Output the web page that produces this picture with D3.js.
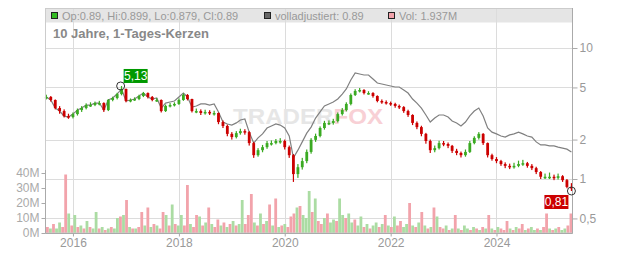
<!DOCTYPE html>
<html><head><meta charset="utf-8">
<script src="https://cdn.jsdelivr.net/npm/d3@7"></script>
<style>body{margin:0;background:#fff}svg{display:block;font-family:"Liberation Sans",Arial,sans-serif}</style>
</head><body><svg id="c" width="632" height="253"></svg>
<script>
// ---- DATA ----
const firstMonth = [2015, 6]; // July 2015, one candle per month
const closes = [
4.23,4.01,3.48,3.30,3.02,2.97,3.13,3.36,3.48,3.67,
3.67,3.80,3.80,3.36,4.01,4.15,4.45,4.87,3.94,4.01,
4.08,4.30,4.53,4.23,4.01,4.01,3.30,3.61,3.67,3.74,
4.01,4.38,4.08,3.30,3.30,3.19,3.25,3.19,3.19,2.72,
2.54,2.21,2.09,2.24,2.32,2.28,1.88,1.52,1.66,1.75,
1.88,1.88,1.95,1.95,1.75,1.52,1.09,1.23,1.37,1.61,
1.99,2.13,2.45,2.68,2.68,2.77,3.13,3.36,3.74,4.38,
4.70,4.78,4.53,4.53,4.30,3.94,3.87,3.80,3.74,3.61,
3.54,3.30,3.08,2.68,2.49,2.21,1.95,1.66,1.72,1.88,
1.85,1.79,1.64,1.58,1.52,1.61,1.88,2.06,2.21,1.88,
1.52,1.42,1.37,1.30,1.26,1.23,1.26,1.30,1.32,1.26,
1.21,1.13,1.04,1.04,1.04,1.02,1.05,0.98,0.87,0.85];
const highs = [
4.40,4.30,4.05,3.60,3.40,3.15,3.22,3.45,3.60,3.78,
3.85,3.90,3.95,3.85,4.08,4.25,4.55,5.13,4.90,4.12,
4.20,4.40,4.62,4.58,4.30,4.15,4.05,3.70,3.80,3.85,
4.12,4.50,4.45,4.10,3.45,3.40,3.38,3.35,3.32,3.22,
2.80,2.60,2.28,2.32,2.42,2.40,2.32,1.92,1.72,1.82,
1.95,1.97,2.02,2.05,2.00,1.80,1.55,1.30,1.45,1.68,
2.05,2.22,2.52,2.78,2.80,2.88,3.22,3.48,3.85,4.50,
4.85,4.95,4.85,4.68,4.60,4.35,4.05,3.98,3.90,3.82,
3.70,3.60,3.38,3.12,2.75,2.55,2.25,2.00,1.80,1.96,
1.95,1.90,1.82,1.70,1.62,1.68,1.95,2.12,2.28,2.24,
1.90,1.56,1.47,1.40,1.34,1.31,1.33,1.38,1.40,1.35,
1.30,1.24,1.15,1.10,1.12,1.08,1.10,1.07,1.00,0.93];
const lows = [
4.05,3.90,3.40,3.15,2.95,2.88,2.90,3.05,3.25,3.40,
3.55,3.60,3.65,3.25,3.30,3.92,4.05,4.35,3.85,3.85,
3.95,4.00,4.22,4.12,3.92,3.88,3.22,3.25,3.52,3.58,
3.68,3.95,3.98,3.22,3.18,3.08,3.10,3.08,3.05,2.62,
2.45,2.12,2.00,2.04,2.18,2.18,1.80,1.45,1.48,1.60,
1.70,1.80,1.84,1.86,1.68,1.45,0.95,1.02,1.18,1.32,
1.56,1.92,2.08,2.38,2.58,2.60,2.70,3.05,3.28,3.65,
4.30,4.58,4.42,4.40,4.18,3.85,3.75,3.70,3.62,3.50,
3.42,3.20,2.98,2.58,2.40,2.12,1.86,1.58,1.60,1.68,
1.78,1.72,1.58,1.52,1.46,1.48,1.58,1.84,2.00,1.82,
1.46,1.38,1.32,1.26,1.21,1.19,1.20,1.23,1.26,1.22,
1.17,1.09,1.00,1.00,1.00,0.98,0.99,0.95,0.85,0.81];
const adjusted = [
4.23,4.01,3.48,3.30,3.02,2.97,3.13,3.36,3.48,3.67,
3.67,3.80,3.80,3.36,4.01,4.15,4.45,4.87,3.94,4.01,
4.08,4.30,4.53,4.23,4.08,4.15,3.48,3.80,3.87,3.94,
4.23,4.53,4.23,3.54,3.61,3.74,3.74,3.67,3.74,3.25,
2.72,2.63,2.58,2.68,2.82,2.87,2.28,1.88,2.06,2.21,
2.45,2.54,2.63,2.58,2.45,2.13,1.45,1.66,1.92,2.24,
2.49,2.92,3.25,3.61,3.74,3.87,4.08,4.45,4.87,5.70,
6.44,6.33,6.22,6.22,5.80,5.40,5.31,5.22,5.13,5.04,
5.04,4.78,4.53,4.08,3.80,3.48,3.08,2.72,2.92,3.08,
3.08,2.97,2.77,2.68,2.54,2.72,3.03,3.30,3.48,3.03,
2.45,2.28,2.21,2.13,2.09,2.17,2.21,2.28,2.21,2.13,
2.09,1.92,1.82,1.82,1.79,1.79,1.75,1.72,1.69,1.61];
const volStart = [2015, 5, 29]; // volume sampled every 21 days (millions)
const volStepDays = 21;
const volumes = [
4,3,6,3,7,4,39,13,5,12, 4,5,3,8,4,3,14,3,4,2,
3,4,3,10,11,12,22,4,3,3, 4,14,5,17,4,6,5,3,14,12,
5,19,6,5,12,5,32,6,4,12, 11,5,7,17,6,4,9,5,7,4,
6,8,5,6,22,6,12,26,7,5, 13,6,8,19,5,23,4,5,6,4,
11,13,17,18,12,10,28,14,23,8, 6,10,13,7,9,8,23,12,10,13,
7,9,5,11,4,6,3,5,7,4, 6,12,5,4,11,5,8,4,6,20,
5,4,7,14,5,3,4,17,11,4, 3,5,2,3,12,3,2,5,3,2,
4,3,2,4,3,12,3,2,4,3, 2,8,3,2,4,3,6,2,3,4,
2,3,2,4,13,3,2,3,4,2, 3,5,13];
const volDirs = "duduuddudu"+"dududuudud"+"uduudududu"+"ddudududdu"+"duduuddudd"+
  "udududdudu"+"duduudddud"+"ududududud"+"dduduuudud"+"duduuduudu"+
  "uduududuud"+"udududduud"+"ududududud"+"dudududuud"+"ududududud"+
  "ddududdudu"+"ududdududu"+"udd";
const priceTicks = [0.5, 1, 2, 5, 10];
const volTicks = [0, 10, 20, 30, 40];
const yearTicks = [2016, 2018, 2020, 2022, 2024];
const title = "10 Jahre, 1-Tages-Kerzen";
const legendItems = [
  {text:"Op:0.89, Hi:0.899, Lo:0.879, Cl:0.89", color:"#33bb22"},
  {text:"volladjustiert: 0.89", color:"#666666"},
  {text:"Vol: 1.937M", color:"#f2a3ab"}];
const extremes = [
  {date:[2016,10,25], value:5.13, label:"5,13", kind:"high"},
  {date:[2025,5,1], value:0.81, label:"0,81", kind:"low"}];

// ---- LAYOUT ----
const L=46, R=572, T=8, B=233;
const svg = d3.select("#c");
const x = d3.scaleTime().domain([new Date(2015,5,29), new Date(2025,5,5)]).range([L,R]);
const y = d3.scaleLog().domain([1,10]).range([179,48]);
const yv = d3.scaleLinear().domain([0,40]).range([B,173]);
const monthDate = i => new Date(firstMonth[0], firstMonth[1]+i, 1);
const deFmt = v => String(v).replace(".", ",");

// legend band
svg.append("rect").attr("x",L-0.5).attr("y",T).attr("width",R-L+1).attr("height",14.5).attr("fill","#e5e5e5");

// grid
svg.append("g").selectAll("line").data(priceTicks).join("line")
  .attr("x1",L).attr("x2",R).attr("y1",d=>Math.round(y(d))+0.5).attr("y2",d=>Math.round(y(d))+0.5)
  .attr("stroke","#dcdcdc");
svg.append("g").selectAll("line").data(yearTicks).join("line")
  .attr("x1",d=>Math.round(x(new Date(d,0,1)))+0.5).attr("x2",d=>Math.round(x(new Date(d,0,1)))+0.5)
  .attr("y1",T).attr("y2",B).attr("stroke","#dcdcdc");

// watermark
const wm = svg.append("text").attr("x",233).attr("y",124).attr("font-size",22).attr("font-weight","bold")
  .attr("textLength",150).attr("lengthAdjust","spacingAndGlyphs");
wm.append("tspan").attr("fill","#e6e6e6").text("TRADER");
wm.append("tspan").attr("fill","#f8d0d5").text("FOX");

// volume bars
const volDate = i => new Date(volStart[0], volStart[1], volStart[2] + i*volStepDays);
svg.append("g").selectAll("rect").data(volumes).join("rect")
  .attr("x",(d,i)=>x(volDate(i))).attr("width",2.8)
  .attr("y",d=>yv(d)).attr("height",d=>B-yv(d))
  .attr("fill",(d,i)=>volDirs[i]==="d" ? "#f2a3ab" : "#abdca3");

// adjusted line
svg.append("path").datum(adjusted)
  .attr("d", d3.line().x((d,i)=>x(monthDate(i))).y(d=>y(d)))
  .attr("fill","none").attr("stroke","#808080").attr("stroke-width",1.2);

// candles
const candles = closes.map((c,i)=>({i, o: i? closes[i-1] : c, c, h: highs[i], l: lows[i]}));
const col = d => d.c>=d.o ? "#3aaa22" : "#cc0000";
const cg = svg.append("g");
cg.selectAll("rect.w").data(candles).join("rect").attr("class","w")
  .attr("x",d=>x(monthDate(d.i))-0.6).attr("width",1.2)
  .attr("y",d=>y(d.h)).attr("height",d=>y(d.l)-y(d.h)).attr("fill",col);
cg.selectAll("rect.b").data(candles).join("rect").attr("class","b")
  .attr("x",d=>x(monthDate(d.i))-1.4).attr("width",2.8)
  .attr("y",d=>y(Math.max(d.o,d.c))).attr("height",d=>Math.max(1.5,Math.abs(y(d.o)-y(d.c))))
  .attr("fill",col);

// border
svg.append("rect").attr("x",L-0.5).attr("y",T+0.5).attr("width",R-L+1).attr("height",B-T-0.5)
  .attr("fill","none").attr("stroke","#cccccc");
svg.append("line").attr("x1",R+0.5).attr("x2",R+0.5).attr("y1",T).attr("y2",B+0.5).attr("stroke","#aaaaaa");
svg.append("line").attr("x1",L-0.5).attr("x2",R+0.5).attr("y1",B+0.5).attr("y2",B+0.5).attr("stroke","#aaaaaa");
svg.append("line").attr("x1",L-0.5).attr("x2",L-0.5).attr("y1",170).attr("y2",B+0.5).attr("stroke","#aaaaaa");

// right price axis
const ra = svg.append("g").attr("transform",`translate(${R+0.5},0)`)
  .call(d3.axisRight(y).tickValues(priceTicks).tickFormat(deFmt).tickSize(5).tickSizeOuter(0));
ra.select(".domain").remove();
ra.selectAll("line").attr("stroke","#aaaaaa");
ra.selectAll("text").attr("fill","#999").attr("font-size",12).attr("font-family","Liberation Sans, Arial").attr("dx",-1);

// left volume axis
const la = svg.append("g").attr("transform",`translate(${L-0.5},0)`)
  .call(d3.axisLeft(yv).tickValues(volTicks).tickFormat(d=>d+"M").tickSize(4).tickSizeOuter(0));
la.select(".domain").remove();
la.selectAll("line").attr("stroke","#aaaaaa");
la.selectAll("text").attr("fill","#aaa").attr("font-size",12).attr("font-family","Liberation Sans, Arial").attr("dx",1);

// bottom axis
const ba = svg.append("g").attr("transform",`translate(0,${B+0.5})`)
  .call(d3.axisBottom(x).tickValues(yearTicks.map(d=>new Date(d,0,1))).tickFormat(d3.timeFormat("%Y")).tickSize(3).tickSizeOuter(0));
ba.select(".domain").remove();
ba.selectAll("line").attr("stroke","#aaaaaa");
ba.selectAll("text").attr("fill","#999").attr("font-size",12).attr("font-family","Liberation Sans, Arial").attr("dy","0.6em");

// legend
const legX = [51, 264, 388];
legendItems.forEach((it,k)=>{
  svg.append("rect").attr("x",legX[k]+0.5).attr("y",12.5).attr("width",6).attr("height",6)
    .attr("fill",it.color).attr("stroke","#222");
  svg.append("text").attr("x",legX[k]+11).attr("y",19.5).attr("font-size",11).attr("fill","#999").text(it.text);
});

// title
svg.append("text").attr("x",53).attr("y",38).attr("font-size",13).attr("font-weight","bold").attr("fill","#888").text(title);

// extremes
extremes.forEach(e=>{
  const cx = x(new Date(...e.date)), cy = y(e.value);
  svg.append("circle").attr("cx",cx).attr("cy",cy).attr("r",4).attr("fill","none").attr("stroke","#333").attr("stroke-width",1);
  const w = 24, h = 14;
  const bx = e.kind==="high" ? cx+3 : cx-3-w;
  const by = e.kind==="high" ? cy-3-h : cy+4;
  svg.append("rect").attr("x",bx).attr("y",by).attr("width",w).attr("height",h)
    .attr("fill", e.kind==="high" ? "#009900" : "#cc0000");
  svg.append("text").attr("x",bx+w/2).attr("y",by+11).attr("text-anchor","middle")
    .attr("font-size",12).attr("fill","#fff").text(e.label);
});
</script></body></html>
